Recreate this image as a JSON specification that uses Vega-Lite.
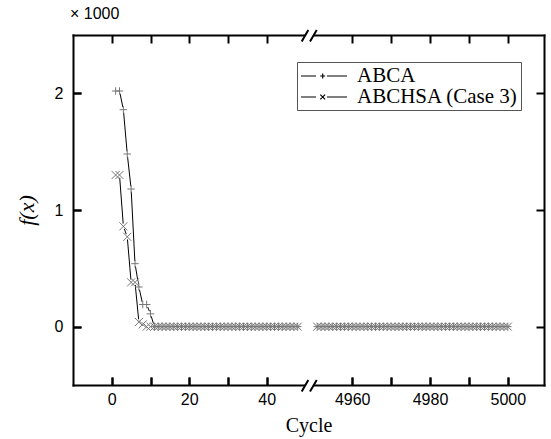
{
  "$schema": "https://vega.github.io/schema/vega-lite/v6.json",
  "width": 471,
  "height": 350,
  "autosize": {"type": "none"},
  "padding": {"left": 73, "top": 35, "right": 7, "bottom": 54},
  "background": "white",
  "title": {"text": "× 1000", "anchor": "start", "frame": "group", "offset": 4, "dx": -3, "font": "Liberation Sans", "fontSize": 16, "fontWeight": "normal", "color": "black"},
  "config": {
    "view": {"stroke": null},
    "axis": {
      "domainColor": "black",
      "domainWidth": 2,
      "domainCap": "square",
      "ticks": true,
      "tickColor": "black",
      "tickWidth": 2,
      "tickSize": -8,
      "gridColor": "black",
      "gridWidth": 2,
      "gridOpacity": 1,
      "labelFont": "Liberation Sans",
      "labelFontSize": 16,
      "labelColor": "black",
      "titleFont": "Liberation Serif",
      "titleFontWeight": "normal",
      "titleColor": "black"
    }
  },
  "datasets": {
    "curves": [
      {"c": 1, "ABCA": 2.02, "ABCHSA": 1.30, "s": "L"},
      {"c": 2, "ABCA": 2.02, "ABCHSA": 1.30, "s": "L"},
      {"c": 3, "ABCA": 1.86, "ABCHSA": 0.86, "s": "L"},
      {"c": 4, "ABCA": 1.48, "ABCHSA": 0.77, "s": "L"},
      {"c": 5, "ABCA": 1.18, "ABCHSA": 0.38, "s": "L"},
      {"c": 6, "ABCA": 0.54, "ABCHSA": 0.38, "s": "L"},
      {"c": 7, "ABCA": 0.34, "ABCHSA": 0.04, "s": "L"},
      {"c": 8, "ABCA": 0.19, "ABCHSA": 0.02, "s": "L"},
      {"c": 9, "ABCA": 0.19, "ABCHSA": 0, "s": "L"},
      {"c": 10, "ABCA": 0.11, "ABCHSA": 0, "s": "L"},
      {"c": 11, "ABCA": 0, "ABCHSA": 0, "s": "L"},
      {"c": 12, "ABCA": 0, "ABCHSA": 0, "s": "L"},
      {"c": 13, "ABCA": 0, "ABCHSA": 0, "s": "L"},
      {"c": 14, "ABCA": 0, "ABCHSA": 0, "s": "L"},
      {"c": 15, "ABCA": 0, "ABCHSA": 0, "s": "L"},
      {"c": 16, "ABCA": 0, "ABCHSA": 0, "s": "L"},
      {"c": 17, "ABCA": 0, "ABCHSA": 0, "s": "L"},
      {"c": 18, "ABCA": 0, "ABCHSA": 0, "s": "L"},
      {"c": 19, "ABCA": 0, "ABCHSA": 0, "s": "L"},
      {"c": 20, "ABCA": 0, "ABCHSA": 0, "s": "L"},
      {"c": 21, "ABCA": 0, "ABCHSA": 0, "s": "L"},
      {"c": 22, "ABCA": 0, "ABCHSA": 0, "s": "L"},
      {"c": 23, "ABCA": 0, "ABCHSA": 0, "s": "L"},
      {"c": 24, "ABCA": 0, "ABCHSA": 0, "s": "L"},
      {"c": 25, "ABCA": 0, "ABCHSA": 0, "s": "L"},
      {"c": 26, "ABCA": 0, "ABCHSA": 0, "s": "L"},
      {"c": 27, "ABCA": 0, "ABCHSA": 0, "s": "L"},
      {"c": 28, "ABCA": 0, "ABCHSA": 0, "s": "L"},
      {"c": 29, "ABCA": 0, "ABCHSA": 0, "s": "L"},
      {"c": 30, "ABCA": 0, "ABCHSA": 0, "s": "L"},
      {"c": 31, "ABCA": 0, "ABCHSA": 0, "s": "L"},
      {"c": 32, "ABCA": 0, "ABCHSA": 0, "s": "L"},
      {"c": 33, "ABCA": 0, "ABCHSA": 0, "s": "L"},
      {"c": 34, "ABCA": 0, "ABCHSA": 0, "s": "L"},
      {"c": 35, "ABCA": 0, "ABCHSA": 0, "s": "L"},
      {"c": 36, "ABCA": 0, "ABCHSA": 0, "s": "L"},
      {"c": 37, "ABCA": 0, "ABCHSA": 0, "s": "L"},
      {"c": 38, "ABCA": 0, "ABCHSA": 0, "s": "L"},
      {"c": 39, "ABCA": 0, "ABCHSA": 0, "s": "L"},
      {"c": 40, "ABCA": 0, "ABCHSA": 0, "s": "L"},
      {"c": 41, "ABCA": 0, "ABCHSA": 0, "s": "L"},
      {"c": 42, "ABCA": 0, "ABCHSA": 0, "s": "L"},
      {"c": 43, "ABCA": 0, "ABCHSA": 0, "s": "L"},
      {"c": 44, "ABCA": 0, "ABCHSA": 0, "s": "L"},
      {"c": 45, "ABCA": 0, "ABCHSA": 0, "s": "L"},
      {"c": 46, "ABCA": 0, "ABCHSA": 0, "s": "L"},
      {"c": 47, "ABCA": 0, "ABCHSA": 0, "s": "L"},
      {"c": 48, "ABCA": 0, "ABCHSA": 0, "s": "L"},
      {"c": 4951, "ABCA": 0, "ABCHSA": 0, "s": "R"},
      {"c": 4952, "ABCA": 0, "ABCHSA": 0, "s": "R"},
      {"c": 4953, "ABCA": 0, "ABCHSA": 0, "s": "R"},
      {"c": 4954, "ABCA": 0, "ABCHSA": 0, "s": "R"},
      {"c": 4955, "ABCA": 0, "ABCHSA": 0, "s": "R"},
      {"c": 4956, "ABCA": 0, "ABCHSA": 0, "s": "R"},
      {"c": 4957, "ABCA": 0, "ABCHSA": 0, "s": "R"},
      {"c": 4958, "ABCA": 0, "ABCHSA": 0, "s": "R"},
      {"c": 4959, "ABCA": 0, "ABCHSA": 0, "s": "R"},
      {"c": 4960, "ABCA": 0, "ABCHSA": 0, "s": "R"},
      {"c": 4961, "ABCA": 0, "ABCHSA": 0, "s": "R"},
      {"c": 4962, "ABCA": 0, "ABCHSA": 0, "s": "R"},
      {"c": 4963, "ABCA": 0, "ABCHSA": 0, "s": "R"},
      {"c": 4964, "ABCA": 0, "ABCHSA": 0, "s": "R"},
      {"c": 4965, "ABCA": 0, "ABCHSA": 0, "s": "R"},
      {"c": 4966, "ABCA": 0, "ABCHSA": 0, "s": "R"},
      {"c": 4967, "ABCA": 0, "ABCHSA": 0, "s": "R"},
      {"c": 4968, "ABCA": 0, "ABCHSA": 0, "s": "R"},
      {"c": 4969, "ABCA": 0, "ABCHSA": 0, "s": "R"},
      {"c": 4970, "ABCA": 0, "ABCHSA": 0, "s": "R"},
      {"c": 4971, "ABCA": 0, "ABCHSA": 0, "s": "R"},
      {"c": 4972, "ABCA": 0, "ABCHSA": 0, "s": "R"},
      {"c": 4973, "ABCA": 0, "ABCHSA": 0, "s": "R"},
      {"c": 4974, "ABCA": 0, "ABCHSA": 0, "s": "R"},
      {"c": 4975, "ABCA": 0, "ABCHSA": 0, "s": "R"},
      {"c": 4976, "ABCA": 0, "ABCHSA": 0, "s": "R"},
      {"c": 4977, "ABCA": 0, "ABCHSA": 0, "s": "R"},
      {"c": 4978, "ABCA": 0, "ABCHSA": 0, "s": "R"},
      {"c": 4979, "ABCA": 0, "ABCHSA": 0, "s": "R"},
      {"c": 4980, "ABCA": 0, "ABCHSA": 0, "s": "R"},
      {"c": 4981, "ABCA": 0, "ABCHSA": 0, "s": "R"},
      {"c": 4982, "ABCA": 0, "ABCHSA": 0, "s": "R"},
      {"c": 4983, "ABCA": 0, "ABCHSA": 0, "s": "R"},
      {"c": 4984, "ABCA": 0, "ABCHSA": 0, "s": "R"},
      {"c": 4985, "ABCA": 0, "ABCHSA": 0, "s": "R"},
      {"c": 4986, "ABCA": 0, "ABCHSA": 0, "s": "R"},
      {"c": 4987, "ABCA": 0, "ABCHSA": 0, "s": "R"},
      {"c": 4988, "ABCA": 0, "ABCHSA": 0, "s": "R"},
      {"c": 4989, "ABCA": 0, "ABCHSA": 0, "s": "R"},
      {"c": 4990, "ABCA": 0, "ABCHSA": 0, "s": "R"},
      {"c": 4991, "ABCA": 0, "ABCHSA": 0, "s": "R"},
      {"c": 4992, "ABCA": 0, "ABCHSA": 0, "s": "R"},
      {"c": 4993, "ABCA": 0, "ABCHSA": 0, "s": "R"},
      {"c": 4994, "ABCA": 0, "ABCHSA": 0, "s": "R"},
      {"c": 4995, "ABCA": 0, "ABCHSA": 0, "s": "R"},
      {"c": 4996, "ABCA": 0, "ABCHSA": 0, "s": "R"},
      {"c": 4997, "ABCA": 0, "ABCHSA": 0, "s": "R"},
      {"c": 4998, "ABCA": 0, "ABCHSA": 0, "s": "R"},
      {"c": 4999, "ABCA": 0, "ABCHSA": 0, "s": "R"},
      {"c": 5000, "ABCA": 0, "ABCHSA": 0, "s": "R"}
    ],
    "breaks": [
      {"c": 50, "y": -0.5},
      {"c": 50, "y": 2.5}
    ]
  },
  "layer": [
    {
      "data": {"name": "curves"},
      "transform": [{"fold": ["ABCA", "ABCHSA"], "as": ["series", "fx"]}],
      "mark": {"type": "line", "strokeWidth": 1},
      "encoding": {
        "x": {
          "field": "c", "type": "quantitative",
          "scale": {"domain": [-10, 50, 4948, 5009.3], "range": [0, 232.5, 232.5, 471], "nice": false, "zero": false},
          "axis": {
            "orient": "bottom",
            "values": [0, 10, 20, 30, 40, 4960, 4970, 4980, 4990, 5000],
            "format": "d",
            "labelExpr": "datum.value % 20 === 0 ? datum.label : ''",
            "tickSize": -8,
            "labelPadding": 14,
            "grid": true,
            "gridDash": [8, 334, 8, 100],
            "title": "Cycle",
            "titleFontSize": 20,
            "titlePadding": 8
          }
        },
        "y": {
          "field": "fx", "type": "quantitative",
          "scale": {"domain": [-0.5, 2.5], "nice": false, "zero": false},
          "axis": {
            "orient": "left",
            "values": [0, 0.5, 1, 1.5, 2],
            "format": "d",
            "labelExpr": "datum.value % 1 === 0 ? datum.label : ''",
            "tickSize": -8,
            "labelPadding": 18,
            "grid": true,
            "gridDash": [8, 455, 8, 100],
            "title": "f(x)",
            "titleFontSize": 22,
            "titleFontStyle": "italic",
            "titlePadding": 16
          }
        },
        "detail": {"field": "s"},
        "color": {
          "field": "series", "type": "nominal",
          "scale": {"domain": ["ABCA", "ABCHSA"], "range": ["black", "black"]},
          "legend": {
            "orient": "none",
            "legendX": 224,
            "legendY": 27,
            "title": null,
            "labelExpr": "datum.value === 'ABCHSA' ? 'ABCHSA (Case 3)' : datum.label",
            "labelFont": "Liberation Serif",
            "labelFontSize": 21,
            "labelColor": "black",
            "labelLimit": 0,
            "symbolSize": 400,
            "labelOffset": 35,
            "rowPadding": 0,
            "padding": 3,
            "strokeColor": "#555",
            "fillColor": "white",
            "encode": {
              "symbols": {
                "update": {
                  "shape": {"signal": "datum.value === 'ABCA' ? 'M-1,0L0.5,0M1.17,-0.25L1.17,0.25M0.92,0L1.42,0M1.6,0L3.6,0' : 'M-1,0L0.5,0M0.93,-0.24L1.41,0.24M0.93,0.24L1.41,-0.24M1.6,0L3.6,0'"},
                  "stroke": {"value": "#333"},
                  "strokeWidth": {"value": 1.2},
                  "fill": {"value": "transparent"}
                }
              }
            }
          }
        }
      }
    },
    {
      "data": {"name": "curves"},
      "transform": [{"fold": ["ABCA", "ABCHSA"], "as": ["series", "fx"]}],
      "mark": {"type": "point", "shape": "circle", "filled": true, "color": "white", "opacity": 1, "size": 30},
      "encoding": {
        "x": {"field": "c", "type": "quantitative", "axis": null},
        "y": {"field": "fx", "type": "quantitative", "axis": null}
      }
    },
    {
      "data": {"name": "curves"},
      "transform": [{"fold": ["ABCA", "ABCHSA"], "as": ["series", "fx"]}, {"filter": "datum.series === 'ABCA'"}],
      "mark": {"type": "point", "shape": "M-1,0L1,0M0,-1L0,1", "filled": false, "color": "#777", "strokeWidth": 1, "opacity": 1, "size": 56},
      "encoding": {
        "x": {"field": "c", "type": "quantitative", "axis": null},
        "y": {"field": "fx", "type": "quantitative", "axis": null}
      }
    },
    {
      "data": {"name": "curves"},
      "transform": [{"fold": ["ABCA", "ABCHSA"], "as": ["series", "fx"]}, {"filter": "datum.series === 'ABCHSA'"}],
      "mark": {"type": "point", "shape": "M-1,-1L1,1M-1,1L1,-1", "filled": false, "color": "#777", "strokeWidth": 1, "opacity": 1, "size": 64},
      "encoding": {
        "x": {"field": "c", "type": "quantitative", "axis": null},
        "y": {"field": "fx", "type": "quantitative", "axis": null}
      }
    },
    {
      "data": {"name": "breaks"},
      "mark": {"type": "point", "shape": "M-0.63,1.1L0.47,-0.85L1.87,-0.85L0.75,1.1Z", "filled": true, "color": "white", "opacity": 1, "size": 144, "clip": false},
      "encoding": {
        "x": {"field": "c", "type": "quantitative", "axis": null},
        "y": {"field": "y", "type": "quantitative", "axis": null}
      }
    },
    {
      "data": {"name": "breaks"},
      "mark": {"type": "point", "shape": "M-0.63,1.1L0.47,-0.85M0.75,1.1L1.87,-0.85", "filled": false, "color": "black", "strokeWidth": 2, "opacity": 1, "size": 144, "clip": false},
      "encoding": {
        "x": {
          "field": "c", "type": "quantitative",
          "axis": {
            "orient": "top",
            "values": [0, 10, 20, 30, 40, 4960, 4970, 4980, 4990, 5000],
            "labels": false,
            "ticks": false,
            "grid": false,
            "title": null
          }
        },
        "y": {
          "field": "y", "type": "quantitative",
          "axis": {
            "orient": "right",
            "values": [0, 0.5, 1, 1.5, 2],
            "labels": false,
            "ticks": false,
            "grid": false,
            "title": null
          }
        }
      }
    }
  ],
  "resolve": {"axis": {"x": "independent", "y": "independent"}}
}
